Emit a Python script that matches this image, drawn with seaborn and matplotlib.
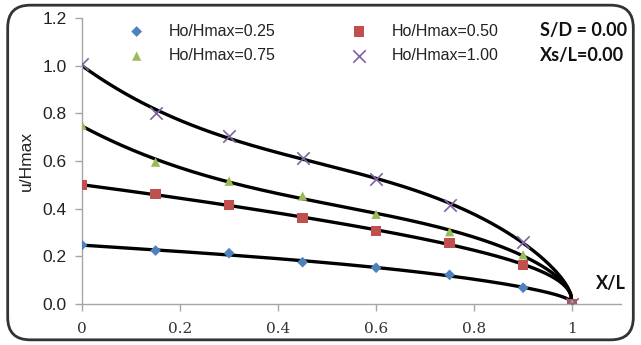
import numpy as np
import pandas as pd
import seaborn as sns
import matplotlib
matplotlib.use("Agg")
import matplotlib.pyplot as plt
from matplotlib.patches import FancyBboxPatch

# ---- data ----
x_pos = [0.0, 0.15, 0.30, 0.45, 0.60, 0.75, 0.90, 1.00]
series_names = ["Ho/Hmax=0.25", "Ho/Hmax=0.50", "Ho/Hmax=0.75", "Ho/Hmax=1.00"]
u_025 = [0.247, 0.224, 0.213, 0.175, 0.152, 0.122, 0.068, 0.0]
u_050 = [0.499, 0.460, 0.415, 0.362, 0.306, 0.257, 0.163, 0.0]
u_075 = [0.751, 0.595, 0.515, 0.453, 0.376, 0.303, 0.206, 0.0]
u_100 = [1.005, 0.800, 0.705, 0.613, 0.525, 0.415, 0.260, 0.0]
x_ticks = [0, 0.2, 0.4, 0.6, 0.8, 1]
x_ticklabels = ["0", "0.2", "0.4", "0.6", "0.8", "1"]
y_ticks = [0.0, 0.2, 0.4, 0.6, 0.8, 1.0, 1.2]

colors = ["#4F81BD", "#C0504D", "#9BBB59", "#8064A2"]
markers = ["D", "s", "^", "x"]
msizes = [30, 55, 45, 80]

rows = []
for name, vals in zip(series_names, [u_025, u_050, u_075, u_100]):
    for xv, yv in zip(x_pos, vals):
        rows.append({"X/L": xv, "u/Hmax": yv, "series": name})
df = pd.DataFrame(rows)

sns.set_theme(style="white")
plt.rcParams["font.family"] = ["Liberation Sans", "DejaVu Sans"]

fig = plt.figure(figsize=(6.41, 3.45), dpi=100)
ax = fig.add_axes([0.128, 0.119, 0.841, 0.829])

# trend curves (least-squares fit through each series, vanishing at X/L = 1)
xs = np.linspace(0, 1, 400)
def basis(x):
    x = np.asarray(x, dtype=float)
    om = np.clip(1 - x, 0, None)
    return np.column_stack([om ** 0.4, om, om * x, om * x ** 2])

curve_rows = []
for name, vals in zip(series_names, [u_025, u_050, u_075, u_100]):
    coef, *_ = np.linalg.lstsq(basis(x_pos), np.array(vals), rcond=None)
    yfit = basis(xs) @ coef
    for xv, yv in zip(xs, yfit):
        curve_rows.append({"X/L": xv, "u/Hmax": yv, "series": name})
cdf = pd.DataFrame(curve_rows)
sns.lineplot(data=cdf, x="X/L", y="u/Hmax", units="series", estimator=None,
             color="black", lw=2.4, ax=ax, legend=False, zorder=2)

handles = []
for name, c, m, s in zip(series_names, colors, markers, msizes):
    sub = df[df["series"] == name]
    kw = dict(color=c, marker=m, s=s, zorder=3)
    if m == "x":
        kw.update(linewidths=1.2)
    else:
        kw.update(edgecolor="none")
    sns.scatterplot(data=sub, x="X/L", y="u/Hmax", ax=ax, legend=False, **kw)
    h = ax.scatter([], [], label=name, **kw)
    handles.append(h)

order = [0, 2, 1, 3]
leg = ax.legend([handles[i] for i in order], [series_names[i] for i in order],
                ncol=2, frameon=False, loc="upper left", bbox_to_anchor=(0.045, 1.03),
                fontsize=11.5, columnspacing=4.25, handletextpad=1.0, labelspacing=0.6,
                scatterpoints=1)
for t in leg.get_texts():
    t.set_color("#222222")

ax.set_xlim(0, 1.1)
ax.set_ylim(0, 1.2)
ax.set_xticks(x_ticks)
ax.set_xticklabels(x_ticklabels, family=["DejaVu Serif"], fontsize=11, color="#333333")
ax.set_yticks(y_ticks)
ax.set_yticklabels([f"{v:.1f}" for v in y_ticks], fontsize=12.5, color="#222222")
for sp in ["top", "right"]:
    ax.spines[sp].set_visible(False)
for sp in ["left", "bottom"]:
    ax.spines[sp].set_color("#A6A6A6")
    ax.spines[sp].set_linewidth(1.0)
ax.tick_params(axis="both", direction="out", length=5, width=1, color="#A6A6A6",
               bottom=True, left=True)
ax.tick_params(axis="x", pad=8)
ax.tick_params(axis="y", pad=6)
ax.set_xlabel("")
ax.set_ylabel("u/Hmax", fontsize=12.5, color="#222222", labelpad=6)

fig.text(0.842, 0.912, "S/D = 0.00", fontsize=13, fontweight="bold",
         family=["Lato", "DejaVu Sans"], va="center", ha="left", color="#111111")
fig.text(0.842, 0.838, "Xs/L=0.00", fontsize=13, fontweight="bold",
         family=["Lato", "DejaVu Sans"], va="center", ha="left", color="#111111")
fig.text(0.930, 0.178, "X/L", fontsize=13, fontweight="bold",
         family=["Lato", "DejaVu Sans"], va="center", ha="left", color="#111111")

frame = FancyBboxPatch((0.012, 0.015), 0.976, 0.97, boxstyle="round,pad=0,rounding_size=0.035",
                       transform=fig.transFigure, fill=False, edgecolor="#333333",
                       linewidth=2.0, mutation_aspect=641 / 345)
fig.patches.append(frame)

fig.savefig("out.png", dpi=100)
